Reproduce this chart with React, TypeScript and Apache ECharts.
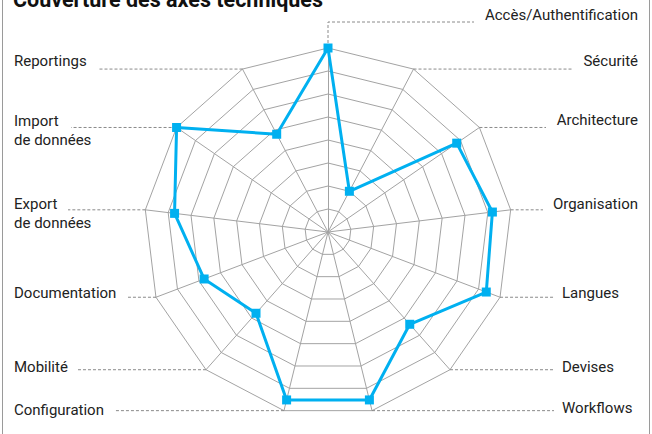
import React, { useEffect, useRef } from "react";
import * as echarts from "echarts";

// Axes in clockwise order starting from the top
const axisNames = [
  "Accès/Authentification",
  "Sécurité",
  "Architecture",
  "Organisation",
  "Langues",
  "Devises",
  "Workflows",
  "Configuration",
  "Mobilité",
  "Documentation",
  "Export\nde données",
  "Import\nde données",
  "Reportings",
];
// Coverage in percent, same order
const coverage = [100, 25, 85, 90, 92, 67, 94, 94, 59, 72, 84, 100, 60];
const maxValue = 100;
const titleText = "Couverture des axes techniques";

// Layout of the outside labels (positions only)
const labelLayout = [
  { x: 638, y: 15, align: "right", lineTo: 474 },
  { x: 638, y: 61, align: "right", lineTo: 572 },
  { x: 638, y: 120, align: "right", lineTo: 546 },
  { x: 638, y: 204, align: "right", lineTo: 543 },
  { x: 562, y: 292.5, align: "left", lineTo: 554 },
  { x: 562, y: 366.5, align: "left", lineTo: 554 },
  { x: 562, y: 408, align: "left", lineTo: 554 },
  { x: 14, y: 409.5, align: "left", lineTo: 115 },
  { x: 14, y: 367, align: "left", lineTo: 76 },
  { x: 14, y: 293, align: "left", lineTo: 128 },
  { x: 14, y: 213.5, align: "left", lineTo: 68 },
  { x: 14, y: 130.5, align: "left", lineTo: 71 },
  { x: 14, y: 60.5, align: "left", lineTo: 99 },
];

const CX = 328;
const CY = 232;
const R = 184;
const BLUE = "#00B0F0";
const GRID = "#a3a3a3";
const LEADER = "#8a8a8a";
const FONT = "Roboto, 'DejaVu Sans', sans-serif";

export default function App() {
  const ref = useRef<HTMLDivElement>(null);

  useEffect(() => {
    document.body.style.margin = "0";
    if (!ref.current) return;
    const chart = echarts.init(ref.current, null, { renderer: "svg" });
    const n = axisNames.length;
    // ECharts radar runs counter-clockwise: keep first, reverse the rest
    const order = [0, ...Array.from({ length: n - 1 }, (_, k) => n - 1 - k)];

    const graphics: any[] = [];
    graphics.push({
      type: "rect",
      shape: { x: 2.5, y: -20, width: 647, height: 520 },
      style: { fill: "none", stroke: "#9a9a9a", lineWidth: 1 },
      silent: true,
      z: 0,
    });
    graphics.push({
      type: "text",
      style: {
        text: titleText,
        x: 13,
        y: -1,
        fill: "#111",
        font: `bold 21.5px ${FONT}`,
        align: "left",
        verticalAlign: "middle",
      },
      z: 5,
    });

    for (let i = 0; i < n; i++) {
      const th = (i * 2 * Math.PI) / n;
      const vx = CX + R * Math.sin(th);
      const vy = CY - R * Math.cos(th);
      const lay = labelLayout[i];
      if (i === 0) {
        graphics.push({
          type: "polyline",
          shape: { points: [[vx, vy], [vx, 22], [lay.lineTo, 22]] },
          style: { stroke: LEADER, lineWidth: 1, lineDash: [3, 2], fill: "none" },
          silent: true,
          z: 1,
        });
      } else {
        graphics.push({
          type: "line",
          shape: { x1: vx, y1: vy, x2: lay.lineTo, y2: vy },
          style: { stroke: LEADER, lineWidth: 1, lineDash: [3, 2] },
          silent: true,
          z: 1,
        });
      }
      graphics.push({
        type: "text",
        style: {
          text: axisNames[i], x: lay.x, y: lay.y, fill: "#222",
          font: `15px ${FONT}`, align: lay.align, verticalAlign: "middle",
          lineHeight: 18.5,
        },
        z: 5,
      });
    }

    chart.setOption({
      animation: false,
      backgroundColor: "#fff",
      graphic: graphics,
      radar: {
        center: [CX, CY],
        radius: R,
        startAngle: 90,
        splitNumber: 8,
        shape: "polygon",
        indicator: order.map((k) => ({ name: axisNames[k], max: maxValue, min: 0 })),
        axisName: { show: false },
        splitArea: { show: false },
        splitLine: { lineStyle: { color: GRID, width: 1 } },
        axisLine: { lineStyle: { color: GRID, width: 1 } },
        axisTick: { show: false },
        axisLabel: { show: false },
      },
      series: [
        {
          type: "radar",
          z: 10,
          symbol: "rect",
          symbolSize: 9,
          lineStyle: { color: BLUE, width: 3 },
          itemStyle: { color: BLUE },
          data: [{ value: order.map((k) => coverage[k]), name: "Couverture" }],
        },
      ],
    });
    return () => chart.dispose();
  }, []);

  return <div ref={ref} style={{ width: 652, height: 434 }} />;
}
